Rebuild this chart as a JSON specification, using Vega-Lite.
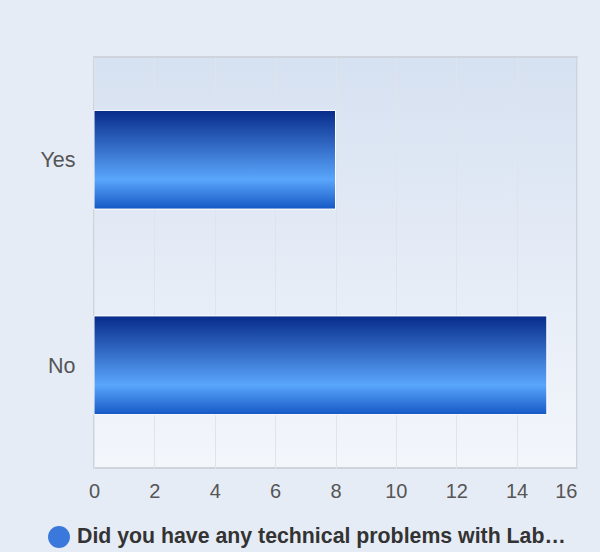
{
  "$schema": "https://vega.github.io/schema/vega-lite/v6.json",
  "width": 483,
  "height": 411,
  "autosize": {"type": "none"},
  "padding": {"left": 94, "top": 57, "right": 23, "bottom": 84},
  "background": "#e6ecf6",
  "config": {
    "font": "Liberation Sans",
    "view": {
      "fill": {"gradient": "linear", "x1": 0, "y1": 0, "x2": 0, "y2": 1,
        "stops": [{"offset": 0, "color": "#d6e1f1"}, {"offset": 1, "color": "#f3f6fb"}]},
      "stroke": "#cfd4dc",
      "strokeWidth": 2
    }
  },
  "data": {
    "values": [
      {"answer": "Yes", "count": 8, "series": "Did you have any technical problems with Lab…"},
      {"answer": "No", "count": 15, "series": "Did you have any technical problems with Lab…"}
    ]
  },
  "encoding": {
    "y": {
      "field": "answer", "type": "nominal", "sort": ["Yes", "No"],
      "scale": {"paddingInner": 0.52, "paddingOuter": 0.26},
      "axis": {"title": null, "ticks": false, "domain": false, "grid": false,
        "labelFontSize": 21.5, "labelColor": "#555555", "labelPadding": 19, "labelOffset": 1.5}
    },
    "x": {
      "field": "count", "type": "quantitative",
      "scale": {"domain": [0, 16], "nice": false},
      "axis": {"title": null, "values": [0, 2, 4, 6, 8, 10, 12, 14, 16], "ticks": false, "domain": false,
        "labelFontSize": 20, "labelColor": "#555555", "labelPadding": 13,
        "gridColor": "#e0e4ea", "gridWidth": 1,
        "labelAlign": {"condition": {"test": "datum.value == 16", "value": "right"}, "value": "center"}}
    }
  },
  "layer": [
    {
      "mark": {
        "type": "bar",
        "fill": {"gradient": "linear", "x1": 0, "y1": 0, "x2": 0, "y2": 1,
          "stops": [
            {"offset": 0, "color": "#072b8a"},
            {"offset": 0.7, "color": "#5aa6fc"},
            {"offset": 1, "color": "#1558c4"}
          ]},
        "stroke": "white",
        "strokeWidth": 1
      }
    },
    {
      "mark": {"type": "point", "filled": true, "opacity": 0},
      "encoding": {
        "color": {
          "field": "series", "type": "nominal",
          "scale": {"range": ["#3a78dc"]},
          "legend": {
            "title": null, "orient": "none", "legendX": -46, "legendY": 469,
            "symbolType": "circle", "symbolSize": 480, "symbolOpacity": 1, "symbolStrokeWidth": 0,
            "labelFontSize": 21.3, "labelFontWeight": "bold", "labelColor": "#333333",
            "labelLimit": 0, "labelOffset": 7
          }
        }
      }
    }
  ]
}
